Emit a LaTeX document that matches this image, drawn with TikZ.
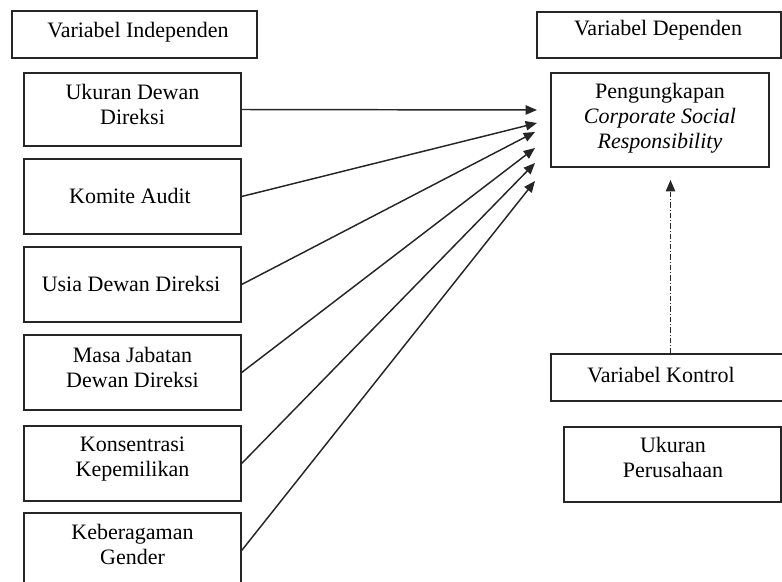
\documentclass[tikz,border=0pt]{standalone}
\usepackage{fontspec}
\setmainfont{Liberation Serif}
\usetikzlibrary{arrows.meta}
\begin{document}
\begin{tikzpicture}[x=0.75pt,y=-0.75pt,
  box/.style={draw=black!85,line width=1pt,rectangle,inner sep=0pt},
  txt/.style={inner sep=0pt,align=center,font=\fontsize{16.5pt}{18.75pt}\selectfont},
  arr/.style={draw=black!85,line width=1.1pt,-{Triangle[length=8.5pt,width=7pt]}},
  darr/.style={draw=black!85,line width=1.1pt,dash pattern=on 4pt off 1.5pt on 0.8pt off 1.5pt,-{Triangle[length=8.5pt,width=7pt]}}]
\useasboundingbox (0,0) rectangle (782,582);
\clip (0,0) rectangle (782,582);
% left column
\node[box,minimum width=245*0.75pt,minimum height=47*0.75pt] (ind) at (134.5,34.5) {};
\node[txt,anchor=base] (indt) at (138,37) {Variabel Independen};
\node[box,minimum width=217*0.75pt,minimum height=73*0.75pt] (b1) at (132.5,109.5) {};
\node[txt,anchor=north] (b1t) at (132.5,84) {Ukuran Dewan\\Direksi};
\node[box,minimum width=217*0.75pt,minimum height=75*0.75pt] (b2) at (132.5,196.5) {};
\node[txt,anchor=base] (b2t) at (130,203) {Komite Audit};
\node[box,minimum width=217*0.75pt,minimum height=75*0.75pt] (b3) at (132.5,284.5) {};
\node[txt,anchor=base] (b3t) at (131,291) {Usia Dewan Direksi};
\node[box,minimum width=217*0.75pt,minimum height=75*0.75pt] (b4) at (132.5,372.5) {};
\node[txt,anchor=north] (b4t) at (132.5,347) {Masa Jabatan\\Dewan Direksi};
\node[box,minimum width=217*0.75pt,minimum height=75*0.75pt] (b5) at (132.5,463.5) {};
\node[txt,anchor=north] (b5t) at (132.5,437) {Konsentrasi\\Kepemilikan};
\node[box,minimum width=217*0.75pt,minimum height=75*0.75pt] (b6) at (132.5,550.5) {};
\node[txt,anchor=north] (b6t) at (132.5,524) {Keberagaman\\Gender};
% right column
\node[box,minimum width=244*0.75pt,minimum height=46*0.75pt] (dep) at (659,35) {};
\node[txt,anchor=base] (dept) at (658,35) {Variabel Dependen};
\node[box,minimum width=218*0.75pt,minimum height=94*0.75pt] (csr) at (660,120) {};
\node[txt,anchor=north] (csrt) at (660,83) {Pengungkapan\\\textit{Corporate Social}\\\textit{Responsibility}};
\node[box,minimum width=239*0.75pt,minimum height=47*0.75pt] (kon) at (670.5,377.5) {};
\node[txt,anchor=base] (kont) at (661,382) {Variabel Kontrol};
\node[box,minimum width=217*0.75pt,minimum height=75*0.75pt] (up) at (672.5,464.5) {};
\node[txt,anchor=north] (upt) at (673,437) {Ukuran\\Perusahaan};
% arrow tips
\coordinate (t1) at (537,110);
\coordinate (t2) at (537,123);
\coordinate (t3) at (535,132);
\coordinate (t4) at (535,148);
\coordinate (t5) at (535,163);
\coordinate (t6) at (535,181);
\coordinate (tk) at (670.5,180);
\draw[arr] (b1.east) -- (t1);
\draw[arr] (b2.east) -- (t2);
\draw[arr] (b3.east) -- (t3);
\draw[arr] (b4.east) -- (t4);
\draw[arr] (b5.east) -- (t5);
\draw[arr] (b6.east) -- (t6);
\draw[darr] (kon.north) -- (tk);
\end{tikzpicture}
\end{document}
